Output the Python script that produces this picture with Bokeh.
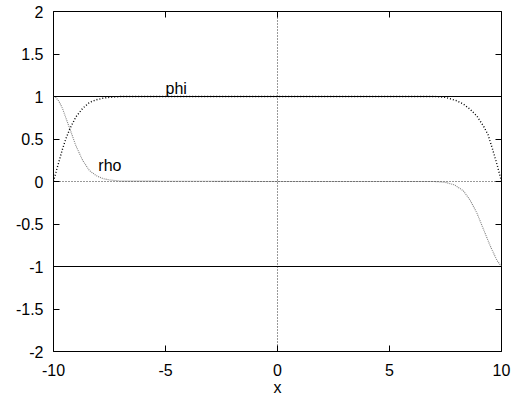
from bokeh.plotting import figure
from bokeh.models import LinearAxis, FixedTicker, Span, ColumnDataSource
from bokeh.core.properties import value
from bokeh.embed import file_html
from bokeh.resources import INLINE

# ---- data ----
phi_x = [-10, -9.9, -9.75, -9.6, -9.45, -9.27, -9.0, -8.7, -8.4, -8.1, -7.8, -7.5, -7.0,
         0, 7.0, 7.5, 8.0, 8.3, 8.6, 8.9, 9.2, 9.4, 9.6, 9.8, 10]
phi_y = [0.0, 0.10, 0.24, 0.38, 0.50, 0.62, 0.76, 0.86, 0.93, 0.96, 0.98, 0.99, 1.0,
         1.0, 1.0, 0.99, 0.95, 0.91, 0.85, 0.77, 0.65, 0.55, 0.38, 0.20, 0.0]

rho_x = [-10, -9.9, -9.75, -9.6, -9.45, -9.27, -9.0, -8.7, -8.4, -8.1, -7.8, -7.5, -7.0,
         0, 7.0, 7.5, 7.9, 8.3, 8.6, 8.9, 9.2, 9.5, 9.8, 10]
rho_y = [1.0, 0.99, 0.94, 0.86, 0.75, 0.62, 0.42, 0.25, 0.13, 0.07, 0.035, 0.018, 0.005,
         0.0, 0.0, -0.01, -0.04, -0.11, -0.22, -0.37, -0.565, -0.76, -0.93, -1.0]

ref_levels = [1, -1]
zero_levels = [0]

label_text = ["phi", "rho"]
label_x = [-5, -8]
label_y = [1.1, 0.19]

x_ticks = [-10, -5, 0, 5, 10]
x_tick_labels = ["-10", "-5", "0", "5", "10"]
y_ticks = [-2, -1.5, -1, -0.5, 0, 0.5, 1, 1.5, 2]
y_tick_labels = ["-2", "-1.5", "-1", "-0.5", "0", "0.5", "1", "1.5", "2"]

FONT = "Liberation Sans"
FS = "16px"

p = figure(x_range=(-10, 10), y_range=(-2, 2),
           frame_width=448, frame_height=340,
           output_backend="svg", toolbar_location=None,
           min_border_left=53, min_border_right=16, min_border_top=11, min_border_bottom=10)
p.background_fill_color = "white"
p.border_fill_color = "white"
p.grid.visible = False
p.outline_line_color = "black"
p.outline_line_width = 1

def style_axis(ax, ticks, labels, show_labels=True):
    ax.ticker = FixedTicker(ticks=ticks)
    ax.major_tick_in = 6
    ax.major_tick_out = 0
    ax.minor_tick_in = 0
    ax.minor_tick_out = 0
    ax.major_tick_line_color = "black"
    ax.axis_line_color = None
    ax.major_label_text_font = FONT
    ax.major_label_text_color = "black"
    ax.major_label_text_font_size = FS
    if show_labels:
        ax.major_label_overrides = {t: l for t, l in zip(ticks, labels)}
        ax.major_label_standoff = 10
    else:
        ax.major_label_overrides = {t: "" for t in ticks}
        ax.major_label_standoff = 0

style_axis(p.xaxis[0], x_ticks, x_tick_labels)
style_axis(p.yaxis[0], y_ticks, y_tick_labels)
p.xaxis[0].major_label_standoff = 12
p.xaxis[0].axis_label = "x"
p.xaxis[0].axis_label_text_font = FONT
p.xaxis[0].axis_label_text_font_size = FS
p.xaxis[0].axis_label_text_font_style = "normal"
p.xaxis[0].axis_label_text_color = "black"
p.xaxis[0].axis_label_standoff = 0

top = LinearAxis()
style_axis(top, x_ticks, x_tick_labels, show_labels=False)
p.add_layout(top, "above")
right = LinearAxis()
style_axis(right, y_ticks, y_tick_labels, show_labels=False)
p.add_layout(right, "right")

# zero axes (dotted)
for z in zero_levels:
    p.add_layout(Span(location=z, dimension="width", line_color="black",
                      line_width=1, line_dash="1 2", line_alpha=0.8))
    p.add_layout(Span(location=z, dimension="height", line_color="black",
                      line_width=1, line_dash="1 2", line_alpha=0.8))

# solid reference lines
for r in ref_levels:
    p.add_layout(Span(location=r, dimension="width", line_color="black", line_width=1.2))

p.line(phi_x, phi_y, line_color="black", line_width=1.4, line_dash="1 2")
p.line(rho_x, rho_y, line_color="#808080", line_width=1.1, line_dash="1 1")

src = ColumnDataSource(dict(x=label_x, y=label_y, t=label_text))
p.text(x="x", y="y", text="t", source=src, text_font=value(FONT),
       text_font_size=FS, text_baseline="middle", text_align="left", text_color="black")

open("out.html", "w").write(file_html(p, INLINE))
